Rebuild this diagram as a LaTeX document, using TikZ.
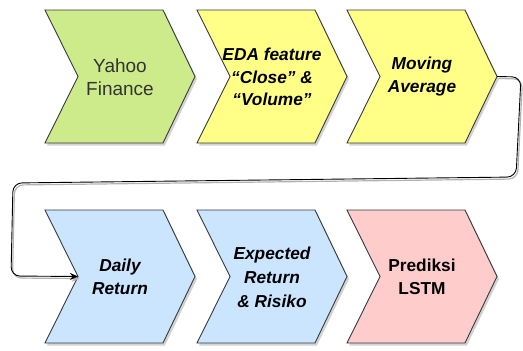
\documentclass[tikz,border=0pt]{standalone}
\usepackage{fontspec}
\setmainfont{Liberation Sans}
\usetikzlibrary{shadows,arrows.meta,calc}
\definecolor{cgreen}{HTML}{CDEB8B}
\definecolor{cyellow}{HTML}{FFFF88}
\definecolor{cblue}{HTML}{CCE5FF}
\definecolor{cpink}{HTML}{FFCCCC}
\definecolor{cstroke}{HTML}{36393D}
\definecolor{ctext}{HTML}{333333}
\tikzset{
  chevbox/.style={draw=cstroke, line width=0.9pt, line join=miter,
    drop shadow={opacity=0.35, shadow xshift=2pt, shadow yshift=-2.5pt}},
  chevtext/.style={align=center, text=black, inner sep=0pt},
  conn/.style={draw=black, line width=0.9pt, rounded corners=9pt,
    -{Stealth[length=8pt,width=7pt]},
    preaction={draw=black!30, line width=1.2pt, transform canvas={xshift=1.5pt, yshift=-2pt},
      -{Stealth[length=8pt,width=7pt]}}},
}
% #1 name, #2 x, #3 y top, #4 colour, #5 node options, #6 text
\newcommand\mychev[6]{%
  \path[chevbox, fill=#4] (#2,#3) -- ++(118,0) -- ++(32,66.5) -- ++(-32,66.5)
    -- ++(-118,0) -- ++(33,-66.5) -- cycle;
  \coordinate (#1-tip) at ($(#2,#3)+(150,66.5)$);
  \coordinate (#1-notch) at ($(#2,#3)+(33,66.5)$);
  \node[chevtext, #5] (#1) at ($(#2,#3)+(75,67)$) {#6};
}
\begin{document}
\begin{tikzpicture}[x=1pt, y=-1pt]
  \useasboundingbox (0,0) rectangle (523,351);
  \mychev{yf}{45}{10}{cgreen}{font=\fontsize{19}{23}\selectfont, text=ctext}{Yahoo\\Finance}
  \mychev{eda}{197}{10}{cyellow}{font=\fontsize{17.3}{22.5}\selectfont\bfseries\itshape}{EDA feature\\“Close” \&\\“Volume”}
  \mychev{ma}{347}{10}{cyellow}{font=\fontsize{17.3}{23}\selectfont\bfseries\itshape}{Moving\\Average}
  \mychev{dr}{45}{210}{cblue}{font=\fontsize{17.3}{23}\selectfont\bfseries\itshape}{Daily\\Return}
  \mychev{er}{197}{210}{cblue}{font=\fontsize{17.3}{24}\selectfont\bfseries\itshape}{Expected\\Return\\\& Risiko}
  \mychev{pl}{347}{210}{cpink}{font=\fontsize{17.3}{23}\selectfont\bfseries}{Prediksi\\LSTM}
  \coordinate (c1) at (521,77);
  \coordinate (c2) at (516,177);
  \coordinate (c3) at (13,183);
  \coordinate (c4) at (11,276);
  \draw[conn] (ma-tip) -- (c1) -- (c2) -- (c3) -- (c4) -- (dr-notch);
\end{tikzpicture}
\end{document}
